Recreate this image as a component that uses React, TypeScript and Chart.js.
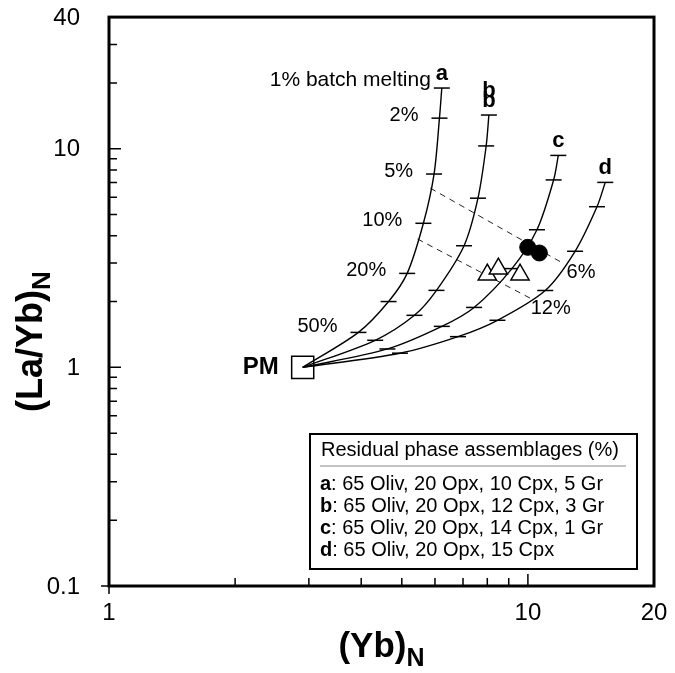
import React, { useEffect, useRef } from 'react';
import { Chart, registerables } from 'chart.js';

Chart.register(...registerables);

const FONT = '"Liberation Sans", Arial, Helvetica, sans-serif';

// Melting steps along each curve (PM first, then decreasing degree of melting)
const meltSteps = ['PM', '50%', '30%', '20%', '10%', '5%', '2%', '1%'];

const pmYb = 2.9;
const pmLaYb = 1.0;

const aYb = [2.9, 3.94, 4.65, 5.15, 5.63, 5.97, 6.15, 6.23];
const aLaYb = [1.0, 1.445, 2.0, 2.69, 4.56, 7.66, 13.8, 18.95];
const bYb = [2.9, 4.32, 5.36, 6.05, 7.04, 7.6, 7.95, 8.07];
const bLaYb = [1.0, 1.33, 1.73, 2.25, 3.6, 5.94, 10.3, 14.26];
const cYb = [2.9, 4.62, 6.23, 7.44, 9.16, 10.51, 11.52, 11.82];
const cLaYb = [1.0, 1.214, 1.54, 1.88, 2.83, 4.26, 7.2, 9.32];
const dYb = [2.9, 4.95, 6.81, 8.46, 11.0, 12.96, 14.62, 15.3];
const dLaYb = [1.0, 1.161, 1.382, 1.642, 2.247, 3.396, 5.43, 7.015];

// equal-melting (dashed) lines
const line6Yb = [5.85, 12.03];
const line6LaYb = [6.6, 3.02];
const line12Yb = [5.45, 10.21];
const line12LaYb = [3.865, 2.055];

// samples
const circleYb = [9.99, 10.65];
const circleLaYb = [3.54, 3.335];
const triYb = [8.0, 8.5, 9.575];
const triLaYb = [2.654, 2.827, 2.654];

const xTicks = [1, 2, 3, 4, 5, 6, 7, 8, 9, 10, 20];
const xTickLabels = ['1', '10', '20'];
const yTicks = [0.1, 0.2, 0.3, 0.4, 0.5, 0.6, 0.7, 0.8, 0.9, 1, 2, 3, 4, 5, 6, 7, 8, 9, 10, 20, 30, 40];
const yTickLabels = ['0.1', '1', '10', '40'];

const curveNames = ['a', 'b', 'c', 'd'];
const legendTitle = 'Residual phase assemblages (%)';
const legendRows = [
  ': 65 Oliv, 20 Opx, 10 Cpx, 5 Gr',
  ': 65 Oliv, 20 Opx, 12 Cpx, 3 Gr',
  ': 65 Oliv, 20 Opx, 14 Cpx, 1 Gr',
  ': 65 Oliv, 20 Opx, 15 Cpx',
];
const lineLabels = ['6%', '12%'];

const zip = (xs: number[], ys: number[]) => xs.map((x, i) => ({ x, y: ys[i] }));

const curveDataset = (xs: number[], ys: number[]) => ({
  data: zip(xs, ys),
  showLine: true,
  borderColor: '#000',
  borderWidth: 1.4,
  tension: 0.3,
  pointStyle: 'line',
  pointRadius: xs.map((_, i) => (i === 0 ? 0 : 8)),
  pointBorderWidth: 1.5,
  pointBorderColor: '#000',
  pointBackgroundColor: '#000',
});

const dashedDataset = (xs: number[], ys: number[]) => ({
  data: zip(xs, ys),
  showLine: true,
  borderColor: '#222',
  borderWidth: 1,
  borderDash: [6, 5],
  pointRadius: 0,
});

const decorPlugin = {
  id: 'decor',
  afterDraw(chart: any) {
    const ctx = chart.ctx as CanvasRenderingContext2D;
    const xs = chart.scales.x;
    const ys = chart.scales.y;
    const { left, right, top, bottom } = chart.chartArea;
    const px = (v: number) => xs.getPixelForValue(v);
    const py = (v: number) => ys.getPixelForValue(v);
    ctx.save();
    ctx.strokeStyle = '#000';
    ctx.fillStyle = '#000';

    // inward tick marks
    ctx.lineWidth = 1.5;
    ctx.beginPath();
    yTicks.forEach((v) => {
      if (v === 40) return;
      const y = py(v);
      const major = yTickLabels.includes(String(v));
      const len = major ? 12 : 8;
      ctx.moveTo(major && v === 0.1 ? left - 8 : left, y);
      ctx.lineTo(left + len, y);
    });
    xTicks.forEach((v) => {
      if (v === 20) return;
      const x = px(v);
      const major = xTickLabels.includes(String(v));
      const len = major ? 12 : 8;
      ctx.moveTo(x, v === 1 ? bottom + 8 : bottom);
      ctx.lineTo(x, bottom - len);
    });
    ctx.stroke();

    // frame
    ctx.lineWidth = 3;
    ctx.strokeRect(left, top, right - left, bottom - top);

    // tick labels
    ctx.font = `24px ${FONT}`;
    ctx.textBaseline = 'middle';
    ctx.textAlign = 'right';
    yTicks.forEach((v) => {
      if (yTickLabels.includes(String(v))) ctx.fillText(String(v), left - 29, py(v) + 1);
    });
    ctx.textAlign = 'center';
    xTicks.forEach((v) => {
      if (xTickLabels.includes(String(v))) ctx.fillText(String(v), px(v), bottom + 27);
    });

    // melting labels on curve a
    ctx.font = `20px ${FONT}`;
    ctx.textAlign = 'right';
    [1, 3, 4, 5, 6].forEach((i) => {
      ctx.fillText(meltSteps[i], px(aYb[i]) - 21, py(aLaYb[i]) - (i === 1 ? 6 : 3));
    });
    ctx.font = `21px ${FONT}`;
    ctx.fillText(meltSteps[7] + ' batch melting', px(aYb[7]) - 11, py(aLaYb[7]) - 8);

    // dashed line labels
    ctx.font = `20px ${FONT}`;
    ctx.textAlign = 'left';
    ctx.fillText(lineLabels[0], px(line6Yb[1]) + 5, py(line6LaYb[1]) + 10);
    ctx.fillText(lineLabels[1], px(line12Yb[1]) - 1, py(line12LaYb[1]) + 10);

    // curve letters
    ctx.font = `bold 22px ${FONT}`;
    ctx.textAlign = 'center';
    const tops = [
      [aYb[7], aLaYb[7]],
      [bYb[7], bLaYb[7]],
      [cYb[7], cLaYb[7]],
      [dYb[7], dLaYb[7]],
    ];
    tops.forEach(([x, y], i) => {
      ctx.fillText(curveNames[i], px(x), py(y) - 14);
      if (i === 1) ctx.fillText(curveNames[i], px(x), py(y) - 24);
    });

    // PM label
    ctx.font = `bold 24px ${FONT}`;
    ctx.textAlign = 'right';
    ctx.fillText('PM', px(pmYb) - 24, py(pmLaYb));

    // legend box
    const lx = 310, ly = 434, lr = right - 17, lb = bottom - 17;
    ctx.lineWidth = 2;
    ctx.strokeRect(lx, ly, lr - lx, lb - ly);
    ctx.textAlign = 'left';
    ctx.font = `20px ${FONT}`;
    ctx.fillText(legendTitle, lx + 11, ly + 16);
    ctx.lineWidth = 1;
    ctx.strokeStyle = '#888';
    ctx.beginPath();
    ctx.moveTo(lx + 10, ly + 32);
    ctx.lineTo(lr - 11, ly + 32);
    ctx.stroke();
    legendRows.forEach((row, i) => {
      const y = ly + 50 + i * 22;
      ctx.font = `bold 20px ${FONT}`;
      ctx.fillText(curveNames[i], lx + 10, y);
      const w = ctx.measureText(curveNames[i]).width;
      ctx.font = `20px ${FONT}`;
      ctx.fillText(row, lx + 10 + w, y);
    });

    // axis titles
    ctx.fillStyle = '#000';
    ctx.textBaseline = 'middle';
    ctx.font = `bold 35px ${FONT}`;
    const xt = '(Yb)';
    const xtw = ctx.measureText(xt).width;
    ctx.font = `bold 25px ${FONT}`;
    const nw = ctx.measureText('N').width;
    const xStart = (left + right) / 2 - (xtw + nw) / 2;
    ctx.font = `bold 35px ${FONT}`;
    ctx.fillText(xt, xStart, 647);
    ctx.font = `bold 25px ${FONT}`;
    ctx.fillText('N', xStart + xtw, 659);

    ctx.save();
    ctx.translate(32, 412);
    ctx.rotate(-Math.PI / 2);
    ctx.font = `bold 36px ${FONT}`;
    const yt = '(La/Yb)';
    ctx.fillText(yt, 0, 0);
    const ytw = ctx.measureText(yt).width;
    ctx.font = `bold 26px ${FONT}`;
    ctx.fillText('N', ytw, 11);
    ctx.restore();

    ctx.restore();
  },
};

export default function App() {
  const ref = useRef<HTMLCanvasElement | null>(null);

  useEffect(() => {
    if (!ref.current) return;
    const chart = new Chart(ref.current, {
      type: 'scatter',
      data: {
        datasets: [
          {
            data: zip(triYb, triLaYb),
            pointStyle: 'triangle',
            pointRadius: 10.5,
            pointBackgroundColor: '#fff',
            pointBorderColor: '#000',
            pointBorderWidth: 1.5,
          },
          {
            data: zip(circleYb, circleLaYb),
            pointStyle: 'circle',
            pointRadius: 8,
            pointBackgroundColor: '#000',
            pointBorderColor: '#000',
            pointBorderWidth: 1,
          },
          {
            data: [{ x: pmYb, y: pmLaYb }],
            pointStyle: 'rect',
            pointRadius: 15.6,
            pointBackgroundColor: 'rgba(0,0,0,0)',
            pointBorderColor: '#000',
            pointBorderWidth: 1.5,
          },
          curveDataset(aYb, aLaYb),
          curveDataset(bYb, bLaYb),
          curveDataset(cYb, cLaYb),
          curveDataset(dYb, dLaYb),
          dashedDataset(line6Yb, line6LaYb),
          dashedDataset(line12Yb, line12LaYb),
        ] as any,
      },
      plugins: [decorPlugin],
      options: {
        animation: false,
        responsive: false,
        maintainAspectRatio: false,
        layout: { padding: { left: 0, top: 16, right: 21, bottom: 0 } },
        plugins: { legend: { display: false }, tooltip: { enabled: false } },
        scales: {
          x: {
            type: 'logarithmic',
            min: 1,
            max: 20,
            grid: { display: false, drawTicks: false },
            border: { display: false },
            afterBuildTicks: (scale: any) => {
              scale.ticks = xTicks.map((v) => ({ value: v }));
            },
            afterFit: (scale: any) => {
              scale.height = 87;
            },
            ticks: { display: false },
          },
          y: {
            type: 'logarithmic',
            min: 0.1,
            max: 40,
            grid: { display: false, drawTicks: false },
            border: { display: false },
            afterBuildTicks: (scale: any) => {
              scale.ticks = yTicks.map((v) => ({ value: v }));
            },
            afterFit: (scale: any) => {
              scale.width = 109;
            },
            ticks: { display: false },
          },
        },
      } as any,
    });
    return () => chart.destroy();
  }, []);

  return (
    <div style={{ position: 'fixed', left: 0, top: 0, width: 675, height: 673, background: '#fff' }}>
      <canvas ref={ref} width={675} height={673} />
    </div>
  );
}
